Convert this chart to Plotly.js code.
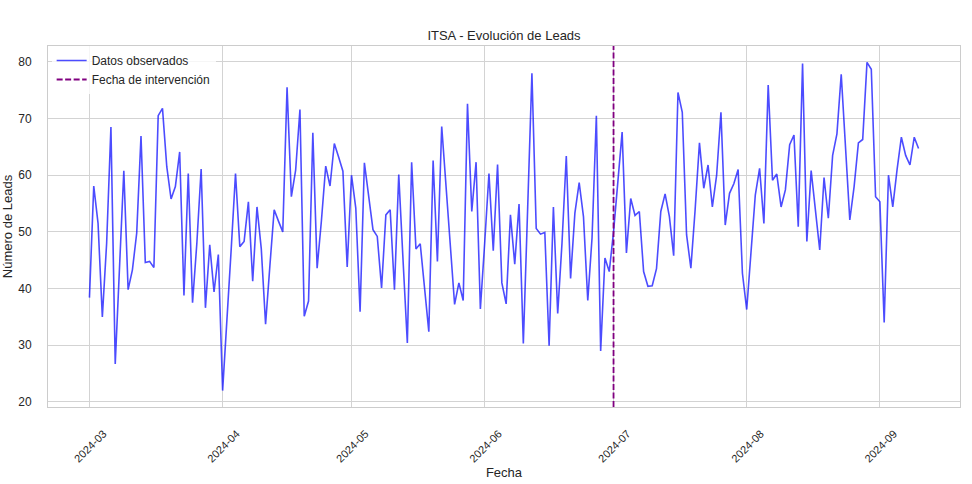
<!DOCTYPE html>
<html>
<head>
<meta charset="utf-8">
<script src="https://cdn.plot.ly/plotly-3.0.1.min.js"></script>
<style>
  html, body { margin: 0; padding: 0; background: #ffffff; }
  #chart { width: 972px; height: 484px; }
</style>
</head>
<body>
<div id="chart"></div>
<script>
// ---- Data ----
const startDate = "2024-03-01";      // first observed day (daily series)
const interventionDate = "2024-07-01";
const leads = [
  38.4, 58.1, 51.5, 35.0, 48.0, 68.5, 26.7, 45.0, 60.8, 39.8,
  43.3, 49.8, 66.9, 44.6, 44.8, 43.7, 70.5, 71.8, 61.5, 55.8,
  58.0, 64.1, 38.8, 60.3, 37.5, 48.0, 61.1, 36.6, 47.7, 39.4,
  46.0, 22.0, 34.0, 47.0, 60.3, 47.4, 48.3, 55.3, 41.3, 54.4,
  47.0, 33.7, 44.0, 53.9, 51.9, 50.0, 75.5, 56.2, 60.9, 71.6,
  35.1, 37.8, 67.5, 43.6, 52.0, 61.6, 58.1, 65.6, 63.2, 60.7,
  43.8, 60.0, 54.2, 35.9, 62.2, 56.0, 50.4, 49.2, 40.1, 53.0,
  53.9, 39.8, 60.1, 45.0, 30.4, 62.3, 47.0, 47.9, 40.0, 32.4,
  62.6, 44.8, 68.6, 58.0, 47.5, 37.2, 41.0, 37.9, 72.6, 53.6,
  62.3, 36.4, 48.0, 60.3, 46.7, 61.9, 41.0, 37.3, 53.0, 44.3,
  54.9, 30.3, 54.0, 78.0, 50.6, 49.6, 49.9, 29.9, 54.4, 35.6,
  48.0, 63.4, 41.8, 53.3, 58.7, 52.7, 37.9, 49.0, 70.5, 29.0,
  45.4, 43.0, 50.0, 59.0, 67.6, 46.3, 55.9, 52.9, 53.6, 43.0,
  40.4, 40.5, 43.5, 53.6, 56.7, 52.7, 45.8, 74.6, 71.1, 49.5,
  43.6, 54.0, 65.7, 57.7, 61.8, 54.4, 60.0, 71.1, 51.2, 56.8,
  58.5, 61.0, 42.7, 36.3, 46.0, 56.5, 61.2, 51.5, 75.9, 59.1,
  60.2, 54.4, 57.4, 65.4, 67.1, 50.9, 79.7, 48.3, 60.8, 54.0,
  46.8, 59.6, 52.4, 63.5, 67.3, 77.8, 64.0, 52.1, 58.0, 65.7,
  66.3, 79.9, 78.7, 56.2, 55.3, 34.0, 60.0, 54.4, 61.0, 66.7,
  63.5, 61.8, 66.7, 64.7
];
const yTicks = [20, 30, 40, 50, 60, 70, 80];
const xTickDates = ["2024-03-01","2024-04-01","2024-05-01","2024-06-01","2024-07-01","2024-08-01","2024-09-01"];
const xTickLabels = ["2024-03","2024-04","2024-05","2024-06","2024-07","2024-08","2024-09"];

// ---- Build daily dates ----
const DAY = 86400000;
const t0 = Date.parse(startDate + "T00:00:00Z");
function iso(ms) { return new Date(ms).toISOString().slice(0, 10); }
const dates = leads.map((_, i) => iso(t0 + i * DAY));

// matplotlib-like 5% margins
const span = (leads.length - 1) * DAY;
const xr = [new Date(t0 - 0.05 * span).toISOString(), new Date(t0 + span + 0.05 * span).toISOString()];
const ymin = Math.min(...leads), ymax = Math.max(...leads);
const yr = [ymin - 0.05 * (ymax - ymin), ymax + 0.05 * (ymax - ymin)];

const fontFam = "Liberation Sans, Arial, sans-serif";
const textCol = "#262626";
const gridCol = "#d3d3d3";

const traces = [{
  type: "scatter",
  mode: "lines",
  x: dates,
  y: leads,
  name: "Datos observados",
  line: { color: "rgba(0,0,255,0.7)", width: 1.6 },
  hoverinfo: "x+y"
}];

const layout = {
  width: 972,
  height: 484,
  paper_bgcolor: "#ffffff",
  plot_bgcolor: "#ffffff",
  margin: { l: 47.5, r: 11.6, t: 46, b: 77.3, pad: 0 },
  font: { family: fontFam, size: 12, color: textCol },
  title: {
    text: "ITSA - Evolución de Leads",
    font: { family: fontFam, size: 13, color: textCol },
    x: 0.5, xref: "paper", xanchor: "center",
    y: 1 - 35 / 484, yref: "container", yanchor: "middle"
  },
  xaxis: {
    type: "date",
    range: xr,
    tickvals: xTickDates,
    ticktext: xTickLabels,
    tickangle: -45,
    tickfont: { family: fontFam, size: 11, color: textCol },
    ticklabelshift: 14,
    ticklabelstandoff: 15,
    showgrid: true,
    gridcolor: gridCol,
    gridwidth: 1,
    zeroline: false,
    showline: true,
    linecolor: "#cccccc",
    linewidth: 1,
    mirror: true,
    ticks: "",
    title: { text: "Fecha", font: { family: fontFam, size: 13, color: textCol }, standoff: 1 }
  },
  yaxis: {
    range: yr,
    tickvals: yTicks,
    tickfont: { family: fontFam, size: 12, color: textCol },
    showgrid: true,
    gridcolor: gridCol,
    gridwidth: 1,
    zeroline: false,
    showline: true,
    linecolor: "#cccccc",
    linewidth: 1,
    mirror: true,
    ticks: "",
    ticklabelstandoff: 13,
    title: { text: "Número de Leads", font: { family: fontFam, size: 13, color: textCol }, standoff: 8 }
  },
  shapes: [{
    type: "line",
    xref: "x", yref: "paper",
    x0: interventionDate, x1: interventionDate,
    y0: 0, y1: 1,
    line: { color: "#800080", width: 1.8, dash: "6px,2.5px" },
    showlegend: true,
    name: "Fecha de intervención"
  }],
  legend: {
    x: 0.004, y: 1.0, xanchor: "left", yanchor: "top",
    bgcolor: "rgba(255,255,255,0.8)",
    borderwidth: 0,
    font: { family: fontFam, size: 12, color: textCol },
    tracegroupgap: 0,
    itemwidth: 30
  },
  showlegend: true
};

Plotly.newPlot("chart", traces, layout, { displayModeBar: false, staticPlot: true });
</script>
</body>
</html>
